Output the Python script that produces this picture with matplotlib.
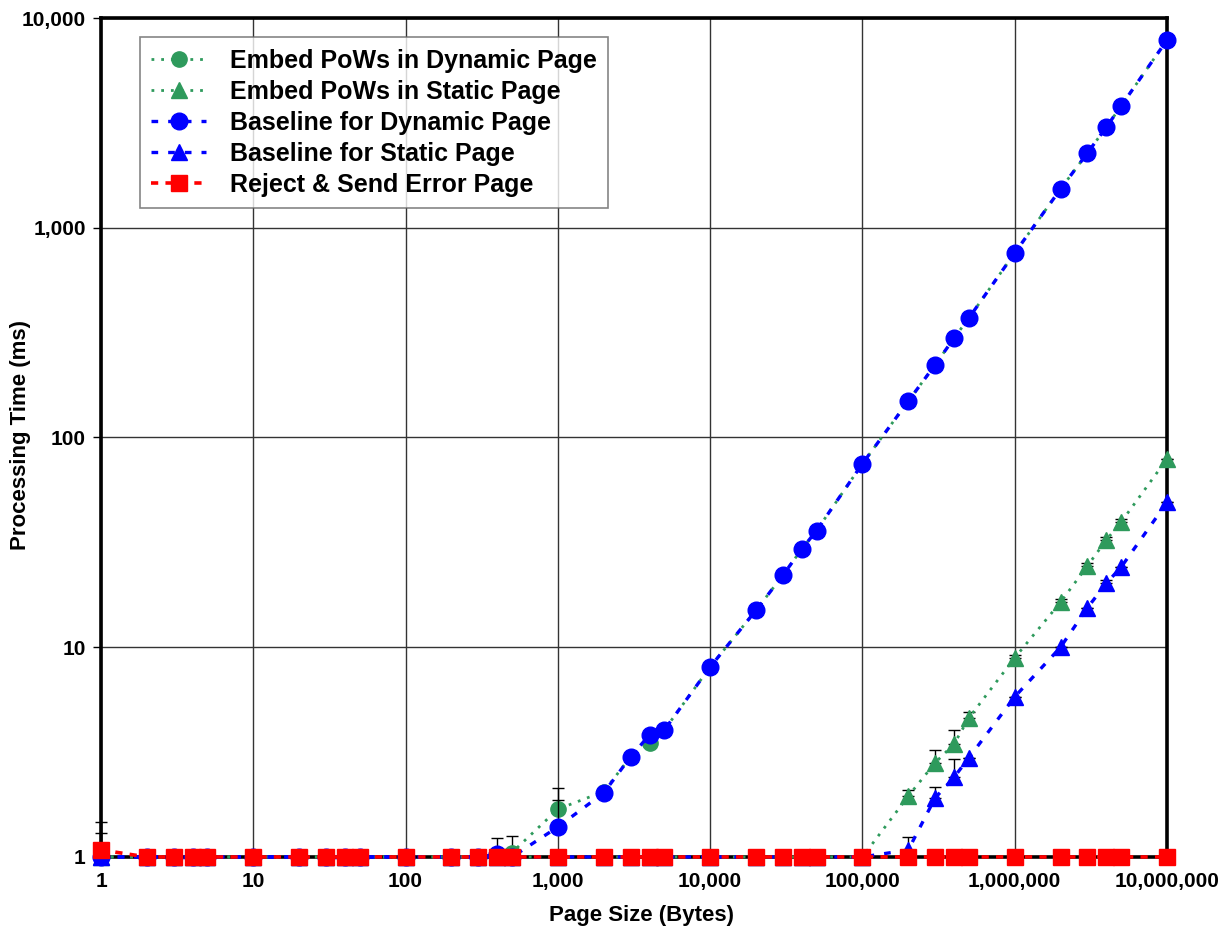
import matplotlib
matplotlib.use("Agg")
import matplotlib.pyplot as plt
import numpy as np
from matplotlib.ticker import FixedLocator, FuncFormatter, NullLocator

plt.rcParams['font.family'] = ['Liberation Sans', 'DejaVu Sans']
plt.rcParams['font.weight'] = 'bold'

page_size = [1, 2, 3, 4, 5, 10, 20, 30, 40, 50, 100, 200, 300, 400, 500,
             1000, 2000, 3000, 4000, 5000, 10000, 20000, 30000, 40000, 50000,
             100000, 200000, 300000, 400000, 500000, 1000000, 2000000,
             3000000, 4000000, 5000000, 10000000]

embed_dynamic = [1, 1, 1, 1, 1, 1, 1, 1, 1, 1, 1, 1, 1, 1.03, 1.05,
                 1.69, 2.05, 3.0, 3.5, 4.03, 8.05, 15, 22, 29.4, 36,
                 75, 149, 222, 298, 371, 758, 1530, 2270, 3020, 3810, 7850]
embed_dynamic_err = [0.47, 0.05, 0, 0.06, 0, 0.05, 0.05, 0, 0, 0, 0.05, 0.05, 0, 0, 0.21,
                     0.44, 0, 0.06, 0, 0, 0.17, 0, 0, 0.05, 0,
                     0.23, 0, 0, 0, 0, 0, 0, 0, 0, 0, 0]

embed_static = [1] * 26 + [1.95, 2.81, 3.46, 4.6, 8.9, 16.4, 24.4, 32.5, 39.5, 79]
embed_static_err = [0] * 26 + [0.13, 0.43, 0.57, 0.3, 0.3, 0.6, 0.8, 1.0, 1.2, 0]

baseline_dynamic = [1, 1, 1, 1, 1, 1, 1, 1, 1, 1, 1, 1, 1, 1.03, 1.0,
                    1.39, 2.02, 3.0, 3.82, 4.03, 8.05, 15, 22, 29.4, 36,
                    75, 149, 222, 298, 371, 758, 1530, 2270, 3020, 3810, 7850]
baseline_dynamic_err = [0.3, 0, 0, 0, 0, 0, 0, 0, 0, 0, 0, 0, 0, 0.2, 0,
                        0.48, 0, 0, 0, 0, 0, 0, 0, 0, 0,
                        0, 0, 0, 0, 0, 0, 0, 0, 0, 0, 0]

baseline_static = [1] * 26 + [1.08, 1.91, 2.4, 2.97, 5.8, 10, 15.4, 20.2, 24.1, 49]
baseline_static_err = [0] * 26 + [0.17, 0.24, 0.53, 0, 0, 0, 0, 0.8, 0, 0]

reject_error = [1.08] + [1] * 35

series_labels = ['Embed PoWs in Dynamic Page', 'Embed PoWs in Static Page',
                 'Baseline for Dynamic Page', 'Baseline for Static Page',
                 'Reject & Send Error Page']

x_ticks = [1, 10, 100, 1000, 10000, 100000, 1000000, 10000000]
y_ticks = [1, 10, 100, 1000, 10000]

GREEN = '#2e9a5c'
BLUE = '#0000ff'
RED = '#ff0000'

fig = plt.figure(figsize=(12.23, 9.33), dpi=100)
ax = fig.add_axes([0.0826, 0.0815, 0.8716, 0.8992])
ax.set_xscale('log')
ax.set_yscale('log')
ax.set_xlim(1, 1e7)
ax.set_ylim(1, 1e4)

handles = []


def series(y, err, color, ls, marker, ms, z, lw=1.8):
    yerr = np.vstack([np.zeros(len(err)), np.array(err)])
    eb = ax.errorbar(page_size, y, yerr=yerr, color=color, ls=ls, lw=lw,
                     marker=marker, ms=ms, mec=color, mfc=color,
                     ecolor='black', elinewidth=1.0, capsize=4, capthick=1.0,
                     zorder=z)
    eb.lines[0].set_clip_on(False)
    for art in eb.lines[1]:
        art.set_clip_on(False)
    for art in eb.lines[2]:
        art.set_clip_on(False)
    handles.append(eb.lines[0])
    return eb


series(embed_dynamic, embed_dynamic_err, GREEN, (0, (1, 2.5)), 'o', 11, 3, lw=2.0)
series(embed_static, embed_static_err, GREEN, (0, (1, 2.5)), '^', 11, 3, lw=2.0)
series(baseline_dynamic, baseline_dynamic_err, BLUE, (0, (2, 3)), 'o', 12, 4, lw=2.4)
series(baseline_static, baseline_static_err, BLUE, (0, (2, 3)), '^', 11, 4, lw=2.4)
series(reject_error, [0] * len(reject_error), RED, (0, (2, 2)), 's', 12, 5, lw=2.6)

ax.xaxis.set_major_locator(FixedLocator(x_ticks))
ax.yaxis.set_major_locator(FixedLocator(y_ticks))
ax.xaxis.set_minor_locator(NullLocator())
ax.yaxis.set_minor_locator(NullLocator())
fmt = FuncFormatter(lambda v, p: f'{int(round(v)):,}')
ax.xaxis.set_major_formatter(fmt)
ax.yaxis.set_major_formatter(fmt)
ax.tick_params(axis='x', length=0, pad=11, labelsize=15)
ax.tick_params(axis='y', length=6, width=1, pad=5, labelsize=15)
for lab in ax.get_xticklabels() + ax.get_yticklabels():
    lab.set_fontweight('bold')

ax.grid(True, which='major', color='#333333', lw=1.0)
ax.set_axisbelow(True)
for s in ['left', 'top', 'right', 'bottom']:
    ax.spines[s].set_linewidth(2.6)
    ax.spines[s].set_color('black')

ax.set_xlabel('Page Size (Bytes)', fontsize=16, fontweight='bold')
ax.xaxis.set_label_coords(0.507, -0.057)
ax.set_ylabel('Processing Time (ms)', fontsize=16, fontweight='bold')
ax.yaxis.set_label_coords(-0.066, 0.503)

leg = ax.legend(handles, series_labels, loc='upper left', bbox_to_anchor=(0.0366, 0.977),
                borderaxespad=0, frameon=True, fancybox=False, edgecolor='#666666',
                handlelength=2.2, handletextpad=0.95, borderpad=0.45,
                labelspacing=0.28, prop={'weight': 'bold', 'size': 18})
leg.get_frame().set_linewidth(1.2)

fig.savefig('out.png', dpi=100)
